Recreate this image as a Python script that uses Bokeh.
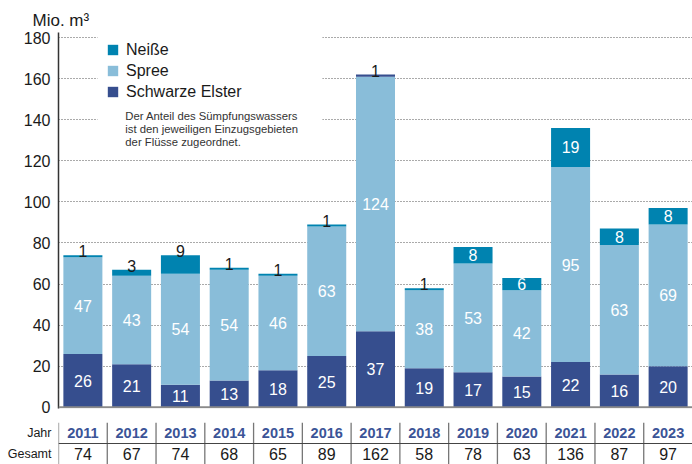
from bokeh.plotting import figure
from bokeh.models import (ColumnDataSource, FactorRange, Range1d, Span, BoxAnnotation,
                          Legend, LegendItem, Label, FixedTicker)
from bokeh.layouts import column
from bokeh.embed import file_html
from bokeh.resources import INLINE
from bokeh.core.properties import value

# ---------------- data ----------------
years = ["2011", "2012", "2013", "2014", "2015", "2016", "2017",
         "2018", "2019", "2020", "2021", "2022", "2023"]
schwarze_elster = [26, 21, 11, 13, 18, 25, 37, 19, 17, 15, 22, 16, 20]
spree = [47, 43, 54, 54, 46, 63, 124, 38, 53, 42, 95, 63, 69]
neisse = [1, 3, 9, 1, 1, 1, 1, 1, 8, 6, 19, 8, 8]
gesamt = [74, 67, 74, 68, 65, 89, 162, 58, 78, 63, 136, 87, 97]
neisse_label_inside = [False, False, False, False, False, False, False,
                       False, True, True, True, True, True]
y_ticks = [0, 20, 40, 60, 80, 100, 120, 140, 160, 180]
note = "Der Anteil des Sümpfungswassers\nist den jeweiligen Einzugsgebieten\nder Flüsse zugeordnet."

# ---------------- style ----------------
FONT = "Liberation Sans"
C_SE = "#364e8e"
C_SP = "#89bdd9"
C_NE = "#0083b0"
C_YEAR = "#3b5497"
neisse_colors = [C_SE if y == "2017" else C_NE for y in years]

se_top = schwarze_elster
sp_bottom = schwarze_elster
sp_top = [a + b for a, b in zip(schwarze_elster, spree)]
ne_bottom = sp_top
ne_top = [a + b for a, b in zip(sp_top, neisse)]

src = ColumnDataSource(dict(
    year=years, se=schwarze_elster, sp=spree, ne=neisse,
    se_top=se_top, sp_bottom=sp_bottom, sp_top=sp_top,
    ne_bottom=ne_bottom, ne_top=ne_top, ne_color=neisse_colors,
    se_mid=[v / 2 for v in schwarze_elster],
    sp_mid=[a + b / 2 for a, b in zip(schwarze_elster, spree)],
))

x_range = FactorRange(*years, range_padding=0)

p = figure(x_range=x_range, y_range=Range1d(-0.6, 182.5), width=692, height=416,
           output_backend="svg", toolbar_location=None,
           min_border_left=58, min_border_right=0, min_border_top=32, min_border_bottom=8)
p.outline_line_color = None
p.background_fill_color = "white"
p.border_fill_color = "white"

p.title.text = "Mio. m³"
p.title.text_font = FONT
p.title.text_font_size = "17px"
p.title.text_font_style = "normal"
p.title.text_color = "#1a1a1a"
p.title.align = "left"
p.title.offset = -26
p.title.standoff = 5

p.xaxis.visible = False
p.xgrid.visible = False
p.ygrid.ticker = FixedTicker(ticks=y_ticks)
p.ygrid.grid_line_color = "#555555"
p.ygrid.grid_line_dash = "1 2"
p.ygrid.grid_line_width = 1

p.yaxis.axis_label = None
p.yaxis.ticker = FixedTicker(ticks=y_ticks)
p.yaxis.axis_line_color = "#333333"
p.yaxis.axis_line_width = 1.5
p.yaxis.major_tick_line_color = None
p.yaxis.major_tick_out = 0
p.yaxis.major_tick_in = 0
p.yaxis.minor_tick_line_color = None
p.yaxis.minor_tick_out = 0
p.yaxis.major_label_text_font = FONT
p.yaxis.major_label_text_font_size = "16px"
p.yaxis.major_label_text_color = "#1a1a1a"
p.yaxis.major_label_standoff = 8

r_se = p.vbar(x="year", bottom=0, top="se_top", width=0.8, source=src,
              fill_color=C_SE, line_color=None)
r_sp = p.vbar(x="year", bottom="sp_bottom", top="sp_top", width=0.8, source=src,
              fill_color=C_SP, line_color=None)
r_ne = p.vbar(x="year", bottom="ne_bottom", top="ne_top", width=0.8, source=src,
              fill_color="ne_color", line_color=None)

p.add_layout(Span(location=0, dimension="width", line_color="#8a8a8a", line_width=2))

# value labels
p.text(x="year", y="se_mid", text="se", source=src, text_color="white",
       text_font=value(FONT), text_font_size="16px", text_align="center", text_baseline="middle")
p.text(x="year", y="sp_mid", text="sp", source=src, text_color="white",
       text_font=value(FONT), text_font_size="16px", text_align="center", text_baseline="middle")

in_idx = [i for i, f in enumerate(neisse_label_inside) if f]
out_idx = [i for i, f in enumerate(neisse_label_inside) if not f]
src_in = ColumnDataSource(dict(
    year=[years[i] for i in in_idx],
    y=[ne_bottom[i] + neisse[i] / 2 for i in in_idx],
    t=[str(neisse[i]) for i in in_idx]))
src_out = ColumnDataSource(dict(
    year=[years[i] for i in out_idx],
    y=[ne_top[i] for i in out_idx],
    t=[str(neisse[i]) for i in out_idx]))
p.text(x="year", y="y", text="t", source=src_in, text_color="white",
       text_font=value(FONT), text_font_size="16px", text_align="center", text_baseline="middle")
p.text(x="year", y="y", text="t", source=src_out, text_color="#1a1a1a",
       text_font=value(FONT), text_font_size="16px", text_align="center",
       text_baseline="alphabetic", y_offset=-4)

# legend area
p.add_layout(BoxAnnotation(left=0.80, right=5.41, bottom=130, top=190,
                           fill_color="white", fill_alpha=1, line_color=None))
legend = Legend(items=[LegendItem(label="Neiße", renderers=[r_ne], index=0),
                       LegendItem(label="Spree", renderers=[r_sp]),
                       LegendItem(label="Schwarze Elster", renderers=[r_se])],
                location=(48, 306), padding=0, margin=0, spacing=0,
                glyph_width=13, glyph_height=13, label_height=21, label_standoff=7,
                label_text_font=FONT, label_text_font_size="16px", label_text_color="#1a1a1a",
                border_line_color=None, background_fill_alpha=0)
p.add_layout(legend)
p.add_layout(Label(x=1.37, y=145, text=note, text_font=FONT, text_font_size="11.3px",
                   text_color="#333333", text_baseline="top", text_align="left",
                   text_line_height=1.12))

# ---------------- table ----------------
t = figure(x_range=x_range, y_range=FactorRange("Gesamt", "Jahr", range_padding=0),
           width=692, height=48, output_backend="svg", toolbar_location=None,
           min_border_left=58, min_border_right=0, min_border_top=6, min_border_bottom=0)
t.outline_line_color = None
t.border_fill_color = "white"
t.xaxis.visible = False
t.xgrid.visible = False
t.ygrid.visible = False
t.yaxis.axis_label = None
t.yaxis.axis_line_color = None
t.yaxis.major_tick_line_color = None
t.yaxis.major_tick_out = 0
t.yaxis.major_tick_in = 0
t.yaxis.minor_tick_line_color = None
t.yaxis.minor_tick_out = 0
t.yaxis.major_label_text_font = FONT
t.yaxis.major_label_text_font_size = "12.5px"
t.yaxis.major_label_text_color = "#1a1a1a"
t.yaxis.major_label_standoff = 7

tsrc = ColumnDataSource(dict(year=years, g=[str(v) for v in gesamt],
                             jr=["Jahr"] * len(years), gr=["Gesamt"] * len(years)))
n = len(years)
t.segment(x0=list(range(n)), x1=list(range(n)), y0=[0] * n, y1=[2] * n,
          line_color="#777777", line_width=1.3)
t.segment(x0=[0], x1=[n], y0=[1], y1=[1], line_color="#444444", line_width=1)
t.text(x="year", y="jr", text="year", source=tsrc, text_color=C_YEAR,
       text_font=value(FONT), text_font_style="bold", text_font_size="14.5px",
       text_align="center", text_baseline="middle")
t.text(x="year", y="gr", text="g", source=tsrc, text_color="#1a1a1a",
       text_font=value(FONT), text_font_size="16px",
       text_align="center", text_baseline="middle")

layout = column(p, t, spacing=0)
open("out.html", "w").write(file_html(layout, INLINE))
